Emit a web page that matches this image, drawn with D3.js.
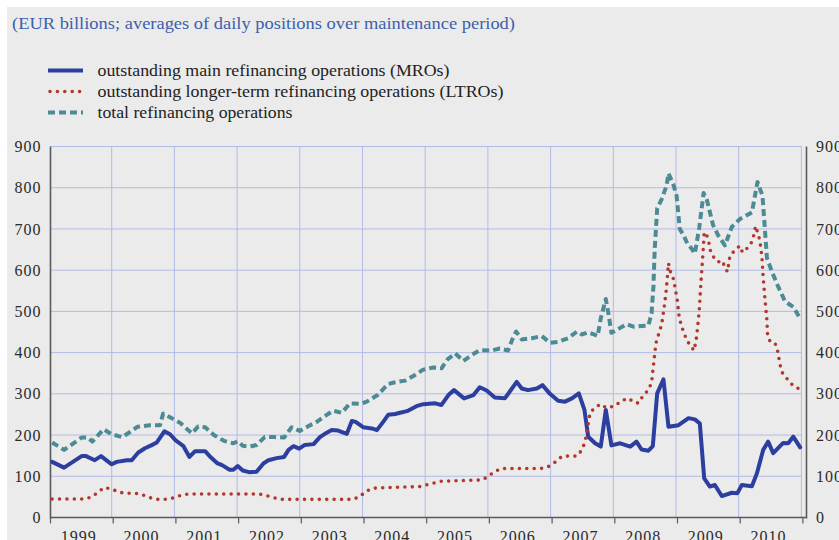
<!DOCTYPE html>
<html>
<head>
<meta charset="utf-8">
<script src="https://cdn.jsdelivr.net/npm/d3@7"></script>
<style>
  body { margin: 0; background: #fff; }
  svg { display: block; }
</style>
</head>
<body>
<svg id="chart" width="839" height="540"></svg>
<script>
// year labels along the bottom and value ticks on both sides
const years = ["1999", "2000", "2001", "2002", "2003", "2004", "2005", "2006", "2007", "2008", "2009", "2010"];
const yTicks = [0, 100, 200, 300, 400, 500, 600, 700, 800, 900];

// [decimal year, EUR billions]
const mro = [
  [1999.05,135],[1999.24,121],[1999.52,149],[1999.59,149],[1999.73,139],[1999.83,149],[2000.00,129],[2000.08,135],
  [2000.24,139],[2000.32,139],[2000.42,157],[2000.53,168],[2000.63,175],[2000.72,182],[2000.84,209],[2000.93,202],
  [2001.02,187],[2001.14,174],[2001.24,147],[2001.33,161],[2001.49,161],[2001.58,146],[2001.68,132],[2001.76,127],
  [2001.88,116],[2001.94,116],[2002.01,125],[2002.09,114],[2002.19,110],[2002.31,111],[2002.42,131],[2002.50,139],
  [2002.63,144],[2002.75,147],[2002.82,164],[2002.90,173],[2002.99,167],[2003.08,176],[2003.22,178],[2003.32,195],
  [2003.40,203],[2003.51,212],[2003.61,211],[2003.75,203],[2003.83,234],[2003.89,232],[2004.01,219],[2004.15,216],
  [2004.23,212],[2004.33,232],[2004.41,249],[2004.52,251],[2004.60,254],[2004.71,258],[2004.86,270],[2004.97,275],
  [2005.16,277],[2005.26,273],[2005.37,297],[2005.46,309],[2005.62,289],[2005.77,297],[2005.87,316],[2005.98,308],
  [2006.11,291],[2006.27,289],[2006.46,329],[2006.54,313],[2006.64,309],[2006.78,313],[2006.87,321],[2006.99,300],
  [2007.12,283],[2007.23,281],[2007.34,289],[2007.45,301],[2007.54,261],[2007.60,196],[2007.71,180],[2007.80,172],
  [2007.88,261],[2007.97,175],[2008.11,180],[2008.27,172],[2008.37,184],[2008.45,165],[2008.56,162],[2008.63,173],
  [2008.70,301],[2008.80,335],[2008.88,220],[2009.04,224],[2009.20,241],[2009.30,238],[2009.38,228],[2009.45,95],
  [2009.54,75],[2009.62,79],[2009.73,52],[2009.89,60],[2009.98,59],[2010.05,79],[2010.21,76],[2010.29,107],
  [2010.39,164],[2010.47,184],[2010.55,156],[2010.71,181],[2010.79,180],[2010.87,196],[2010.98,170]
];

const ltro = [
  [1999.05,45],[1999.57,45],[1999.68,50],[1999.78,61],[1999.88,73],[2000.00,69],[2000.12,61],[2000.24,59],
  [2000.37,59],[2000.49,55],[2000.61,48],[2000.72,44],[2000.85,44],[2000.97,47],[2001.09,53],[2001.21,57],
  [2002.35,57],[2002.47,53],[2002.59,48],[2002.71,44],[2003.85,44],[2003.96,51],[2004.05,63],[2004.16,71],
  [2004.28,72],[2004.92,75],[2005.04,80],[2005.15,84],[2005.26,88],[2005.90,91],[2006.00,99],[2006.10,111],
  [2006.22,119],[2006.85,119],[2006.96,123],[2007.07,134],[2007.18,148],[2007.28,149],[2007.42,149],[2007.50,164],
  [2007.55,184],[2007.59,218],[2007.63,254],[2007.71,267],[2007.80,275],[2007.89,266],[2008.02,270],[2008.13,283],
  [2008.24,289],[2008.35,278],[2008.41,278],[2008.47,295],[2008.56,309],[2008.61,327],[2008.65,382],[2008.68,423],
  [2008.72,443],[2008.77,467],[2008.81,508],[2008.84,545],[2008.86,578],[2008.88,617],[2008.90,600],[2008.95,584],
  [2008.98,562],[2009.02,528],[2009.05,487],[2009.09,463],[2009.16,435],[2009.22,418],[2009.29,405],[2009.33,440],
  [2009.37,500],[2009.40,576],[2009.43,640],[2009.45,692],[2009.49,685],[2009.52,670],[2009.55,647],[2009.61,629],
  [2009.67,620],[2009.74,623],[2009.78,607],[2009.82,596],[2009.86,634],[2009.94,649],[2010.02,659],[2010.06,643],
  [2010.15,655],[2010.22,671],[2010.27,707],[2010.31,688],[2010.34,669],[2010.37,633],[2010.39,584],[2010.42,528],
  [2010.45,479],[2010.46,443],[2010.50,427],[2010.58,423],[2010.62,405],[2010.66,370],[2010.70,350],[2010.78,335],
  [2010.87,319],[2010.98,311]
];

const total = [
  [1999.05,182],[1999.24,164],[1999.52,194],[1999.62,194],[1999.69,184],[1999.87,214],[2000.00,202],[2000.17,195],
  [2000.41,220],[2000.61,224],[2000.77,224],[2000.82,252],[2000.93,243],[2001.09,230],[2001.22,212],[2001.28,204],
  [2001.38,221],[2001.49,219],[2001.63,200],[2001.79,186],[2001.94,180],[2002.01,185],[2002.09,174],[2002.21,172],
  [2002.31,176],[2002.44,195],[2002.60,195],[2002.75,194],[2002.87,219],[2003.00,210],[2003.14,222],[2003.27,232],
  [2003.40,246],[2003.53,259],[2003.67,254],[2003.80,277],[2003.98,276],[2004.07,281],[2004.24,297],[2004.41,324],
  [2004.52,328],[2004.68,332],[2004.81,343],[2004.96,358],[2005.13,364],[2005.26,362],[2005.36,384],[2005.48,398],
  [2005.61,380],[2005.74,394],[2005.87,406],[2006.06,405],[2006.19,410],[2006.32,405],[2006.39,432],[2006.45,451],
  [2006.54,432],[2006.70,435],[2006.86,440],[2006.99,424],[2007.12,426],[2007.28,435],[2007.42,451],[2007.50,444],
  [2007.59,449],[2007.68,445],[2007.75,440],[2007.80,483],[2007.88,530],[2007.92,497],[2007.97,448],[2008.11,460],
  [2008.21,469],[2008.32,463],[2008.56,466],[2008.61,495],[2008.64,560],[2008.66,650],[2008.70,750],[2008.77,772],
  [2008.85,805],[2008.88,835],[2008.96,807],[2009.01,780],[2009.06,700],[2009.12,685],[2009.18,665],[2009.25,652],
  [2009.30,640],[2009.37,702],[2009.44,787],[2009.49,772],[2009.59,710],[2009.67,685],[2009.78,660],[2009.89,705],
  [2010.02,724],[2010.21,740],[2010.30,814],[2010.38,780],[2010.45,630],[2010.53,596],[2010.63,560],[2010.74,524],
  [2010.87,511],[2010.99,480]
];

const legendLabels = [
  "outstanding main refinancing operations (MROs)",
  "outstanding longer-term refinancing operations (LTROs)",
  "total refinancing operations"
];

const width = 839, height = 540;
const serif = "Liberation Serif, Times New Roman, serif";
const axisColor = "#5a5a5a";
const gridColor = "#b3bbe6";

const series = [
  { data: mro,   color: "#2c3f9f", dash: null,    width: 4,   cap: "round" },
  { data: ltro,  color: "#b3372d", dash: "0,7.4", width: 3.6, cap: "round" },
  { data: total, color: "#4c8b96", dash: "7,4",   width: 4,   cap: "butt" }
];

const svg = d3.select("#chart")
    .attr("viewBox", [0, 0, width, height])
    .attr("font-family", serif);

svg.append("rect")
    .attr("x", 7).attr("y", 7)
    .attr("width", width - 7).attr("height", height - 7)
    .attr("fill", "#ebebeb");

const x = d3.scaleLinear().domain([1999, 2011]).range([49, 801.4]);
const y = d3.scaleLinear().domain([0, 900]).range([517.5, 146.5]);

// title
svg.append("text")
    .attr("x", 12).attr("y", 29)
    .attr("font-size", 17)
    .attr("fill", "#3c5fae")
    .attr("textLength", 503)
    .attr("lengthAdjust", "spacingAndGlyphs")
    .text("(EUR billions; averages of daily positions over maintenance period)");

// legend
const legend = svg.append("g");
const legendRows = legend.selectAll("g")
    .data(series)
    .join("g")
    .attr("transform", (d, i) => `translate(0,${70.5 + i * 21})`);

legendRows.append("line")
    .attr("x1", d => d.cap === "round" && d.dash ? 50 : 48)
    .attr("x2", 83)
    .attr("stroke", d => d.color)
    .attr("stroke-width", d => d.width)
    .attr("stroke-dasharray", d => d.dash)
    .attr("stroke-linecap", d => d.dash ? d.cap : "butt");

const legendWidths = [352, 406, 195];
legendRows.append("text")
    .attr("x", 97.5)
    .attr("dy", "0.33em")
    .attr("font-size", 17)
    .attr("fill", "#222")
    .attr("textLength", (d, i) => legendWidths[i])
    .attr("lengthAdjust", "spacingAndGlyphs")
    .text((d, i) => legendLabels[i]);

// grid
const grid = svg.append("g");
grid.selectAll(".h")
    .data(yTicks.filter(v => v > 0))
    .join("line")
    .attr("x1", 50).attr("x2", x(2011))
    .attr("y1", d => y(d)).attr("y2", d => y(d))
    .attr("stroke", gridColor).attr("stroke-width", 1);

grid.selectAll(".v")
    .data(d3.range(2000, 2012))
    .join("line")
    .attr("x1", d => x(d)).attr("x2", d => x(d))
    .attr("y1", y(900)).attr("y2", y(0))
    .attr("stroke", gridColor).attr("stroke-width", 1);

// axes
const leftAxis = svg.append("g")
    .attr("transform", "translate(50.5,0)")
    .call(d3.axisLeft(y).tickValues(yTicks).tickSize(0).tickPadding(9));

const rightAxis = svg.append("g")
    .attr("transform", "translate(806.5,0)")
    .call(d3.axisRight(y).tickValues(yTicks).tickSize(0).tickPadding(9.5));

const bottomTicks = svg.append("g")
    .attr("transform", `translate(1,${y(0)})`)
    .call(d3.axisBottom(x).tickValues(d3.range(1999, 2012)).tickSize(6).tickFormat(""));

const bottomLabels = svg.append("g")
    .attr("transform", `translate(-2,${y(0)})`)
    .call(d3.axisBottom(x).tickValues(years.map(v => +v + 0.5))
      .tickSize(0).tickPadding(13).tickFormat(d => years[Math.floor(d) - 1999]));

[leftAxis, rightAxis, bottomLabels].forEach(g => {
  g.select(".domain").remove();
  g.selectAll("text")
      .attr("font-family", serif)
      .attr("font-size", 16)
      .attr("letter-spacing", 1)
      .attr("fill", "#2a2a2a");
});

bottomTicks.select(".domain").remove();
bottomTicks.selectAll("line").attr("stroke", axisColor).attr("stroke-width", 1.2);

svg.append("line")
    .attr("x1", 50.5).attr("x2", 50.5)
    .attr("y1", y(900)).attr("y2", y(0) + 1)
    .attr("stroke", axisColor).attr("stroke-width", 1.6);
svg.append("line")
    .attr("x1", 806.5).attr("x2", 806.5)
    .attr("y1", y(900)).attr("y2", y(0) + 1)
    .attr("stroke", axisColor).attr("stroke-width", 1.6);
svg.append("line")
    .attr("x1", 50).attr("x2", 807)
    .attr("y1", y(0)).attr("y2", y(0))
    .attr("stroke", axisColor).attr("stroke-width", 1.6);

// series
const line = d3.line()
    .x(d => x(d[0]))
    .y(d => y(d[1]))
    .curve(d3.curveLinear);

svg.append("g")
  .selectAll("path")
  .data(series)
  .join("path")
    .attr("d", d => line(d.data))
    .attr("fill", "none")
    .attr("stroke", d => d.color)
    .attr("stroke-width", d => d.width)
    .attr("stroke-dasharray", d => d.dash)
    .attr("stroke-linecap", d => d.cap)
    .attr("stroke-linejoin", "round");
</script>
</body>
</html>
